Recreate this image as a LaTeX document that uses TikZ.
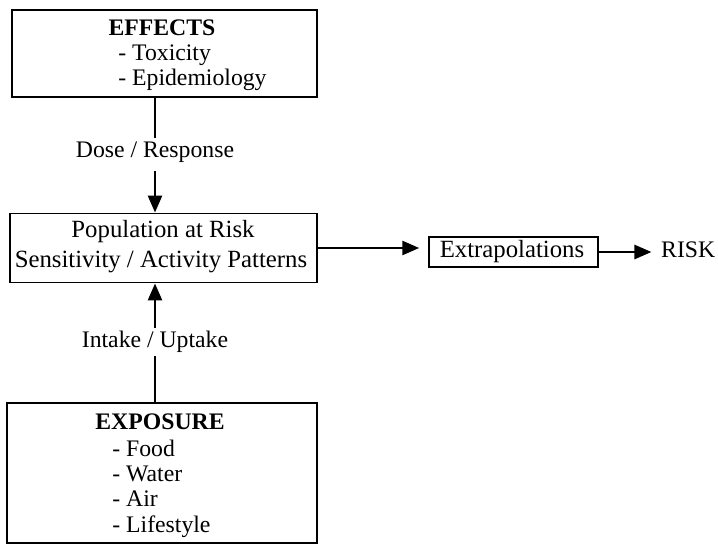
\documentclass[tikz,border=0pt]{standalone}
\usepackage{fontspec}
\setmainfont{Liberation Serif}
\usetikzlibrary{arrows.meta, calc}

\tikzset{
  box/.style={draw, line width=1.1pt, inner sep=0pt},
  txt/.style={font=\fontsize{13.5}{16}\selectfont, text height=1.6ex, text depth=0.3ex},
  bigtxt/.style={txt, font=\fontsize{14.1}{17}\selectfont},
  wire/.style={line width=1.5pt},
  arr/.style={line width=1.5pt, -{Triangle[length=3.4mm, width=2.8mm]}}
}

\begin{document}
\begin{tikzpicture}[x=0.02cm, y=-0.02cm]
               \useasboundingbox (0, 0) rectangle (718, 545);

               %% boxes
               \node[box, minimum width=6.1cm, minimum height=1.74cm] at (164.5, 53.5) (effects) {};
               \node[box, minimum width=6.14cm, minimum height=1.38cm] at (163.5, 248) (pop) {};
               \node[box, minimum width=3.38cm, minimum height=0.6cm] at (513.5, 252) (extra) {};
               \node[box, minimum width=6.2cm, minimum height=2.8cm] at (162, 473) (expo) {};

               %% EFFECTS
               \node[txt] at (162, 30) (effhead) {\textbf{EFFECTS}};
               \node[txt, anchor=west, inner xsep=0pt] at (118, 55) (tox) {- Toxicity};
               \node[txt, anchor=west, inner xsep=0pt] at (118, 80) (epi) {- Epidemiology};

               %% population
               \node[bigtxt] at (163, 232) (popa) {Population at Risk};
               \node[bigtxt] at (161, 262) (popb) {Sensitivity / Activity Patterns};
               \node[bigtxt] at (512, 252) (extratxt) {Extrapolations};
               \node[txt, anchor=west] at (655, 252) (risk) {RISK};

               %% EXPOSURE
               \node[txt] at (160, 424) (expohead) {\textbf{EXPOSURE}};
               \node[txt, anchor=west, inner xsep=0pt] at (112, 451) (food) {- Food};
               \node[txt, anchor=west, inner xsep=0pt] at (112, 476) (water) {- Water};
               \node[txt, anchor=west, inner xsep=0pt] at (112, 501) (air) {- Air};
               \node[txt, anchor=west, inner xsep=0pt] at (112, 527) (life) {- Lifestyle};

               %% labels on the links
               \node[txt] at (155, 152) (dose) {Dose / Response};
               \node[txt] at (155, 342) (intake) {Intake / Uptake};

               %% Dose / Response
               \draw[wire] (dose |- effects.south) -- (dose.north);
               \draw[arr, shorten <=3pt] (dose.south) -- (dose |- pop.north);

               %% Intake / Uptake
               \draw[wire] (intake |- expo.north) -- (intake.south);
               \draw[arr] (intake.north) -- (intake |- pop.south);

               %% to RISK
               \draw[arr, shorten >=5pt] (pop.east) -- (pop.east -| extra.west);
               \draw[arr, shorten >=2pt] (extra.east) -- (extra.east -| risk.west);
\end{tikzpicture}
\end{document}
